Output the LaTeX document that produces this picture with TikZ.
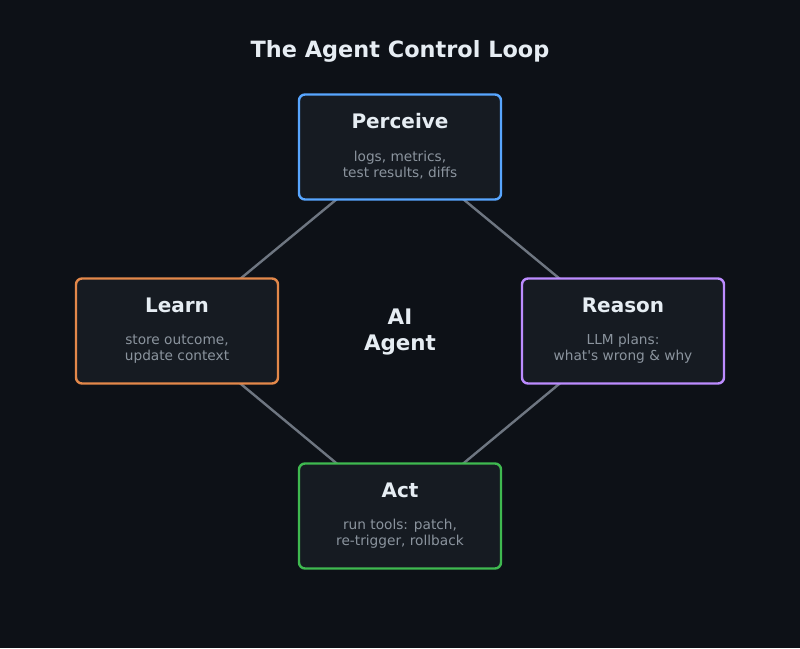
\documentclass[tikz,border=0pt]{standalone}
\usepackage{fontspec}
\setmainfont{DejaVu Sans}
\definecolor{bg}{HTML}{0D1117}
\definecolor{boxfill}{HTML}{161B22}
\definecolor{txt}{HTML}{E6EDF3}
\definecolor{sub}{HTML}{8B949E}
\definecolor{edge}{HTML}{6E7681}
\definecolor{cblue}{HTML}{58A6FF}
\definecolor{corange}{HTML}{E3884A}
\definecolor{cpurple}{HTML}{BC8CFF}
\definecolor{cgreen}{HTML}{3FB950}
\begin{document}
\begin{tikzpicture}[x=1pt,y=-1pt,
  stage/.style={draw, line width=2.4pt, fill=boxfill, rounded corners=6pt, minimum width=202pt, minimum height=105pt, inner sep=0pt},
  ttl/.style={text=txt, font=\bfseries\fontsize{20}{24}\selectfont},
  desc/.style={text=sub, font=\fontsize{13.7}{16}\selectfont, align=center},
  link/.style={draw=edge, line width=2.4pt}]
\fill[bg] (0,0) rectangle (800,648);
\useasboundingbox (0,0) rectangle (800,648);
\node[text=txt, font=\bfseries\fontsize{22.4}{26}\selectfont] (title) at (400,51) {The Agent Control Loop};
\node[text=txt, font=\bfseries\fontsize{21.4}{26}\selectfont, align=center] (agent) at (400,332) {AI\\Agent};
\coordinate (cP) at (400,147);
\coordinate (cL) at (177,331);
\coordinate (cR) at (623,331);
\coordinate (cA) at (400,516);
\draw[link] (cP) -- (cL);
\draw[link] (cP) -- (cR);
\draw[link] (cL) -- (cA);
\draw[link] (cR) -- (cA);
\node[stage, draw=cblue] (P) at (cP) {};
\node[stage, draw=corange] (L) at (cL) {};
\node[stage, draw=cpurple] (R) at (cR) {};
\node[stage, draw=cgreen] (A) at (cA) {};
\node[ttl] (Pt) at (400,121) {Perceive};
\node[desc] (Pd) at (400,165) {logs, metrics,\\test results, diffs};
\node[ttl] (Lt) at (177,305) {Learn};
\node[desc] (Ld) at (177,349) {store outcome,\\update context};
\node[ttl] (Rt) at (623,305) {Reason};
\node[desc] (Rd) at (623,349) {LLM plans:\\what\textquotesingle s wrong \& why};
\node[ttl] (At) at (400,490) {Act};
\node[desc] (Ad) at (400,534) {run tools: patch,\\re-trigger, rollback};
\end{tikzpicture}
\end{document}
